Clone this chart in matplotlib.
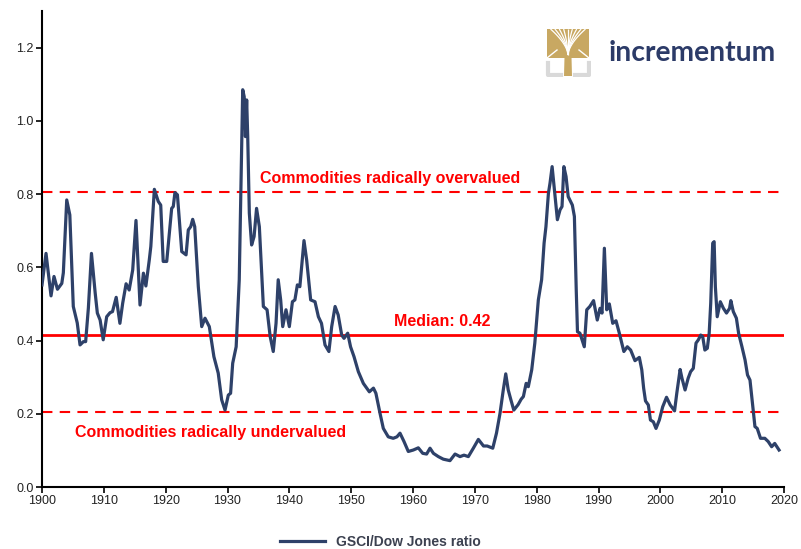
import matplotlib
matplotlib.use("Agg")
import matplotlib.pyplot as plt
from matplotlib.patches import Polygon, Rectangle
import numpy as np

# ---------------- data ----------------
years = [1900.0, 1900.65, 1901.46, 1901.94, 1902.5, 1903.2, 1903.45, 1904.0, 1904.5, 1905.06,
         1905.7, 1906.15, 1906.7, 1907.06, 1907.5, 1908.0, 1908.6, 1908.95, 1909.4, 1909.9,
         1910.46, 1911.0, 1911.4, 1912.0, 1912.6, 1913.05, 1913.6, 1914.1, 1914.67, 1915.2,
         1915.85, 1916.4, 1916.8, 1917.35, 1917.6, 1918.17, 1918.8, 1919.2, 1919.6, 1920.17,
         1920.97, 1921.23, 1921.5, 1921.9, 1922.6, 1923.3, 1923.66, 1924.05, 1924.37, 1924.7,
         1925.28, 1925.83, 1926.36, 1927.06, 1927.8, 1928.5, 1929.06, 1929.6, 1930.13, 1930.5,
         1930.84, 1931.4, 1931.9, 1932.2, 1932.46, 1932.7, 1932.9, 1933.1, 1933.27, 1933.53,
         1933.9, 1934.3, 1934.7, 1935.15, 1935.8, 1936.4, 1936.9, 1937.4, 1937.85, 1938.2,
         1938.6, 1938.93, 1939.46, 1940.0, 1940.5, 1940.9, 1941.3, 1941.7, 1942.37, 1942.8,
         1943.45, 1944.15, 1944.7, 1945.2, 1945.77, 1946.4, 1946.85, 1947.4, 1947.9, 1948.47,
         1948.84, 1949.44, 1949.9, 1950.46, 1951.16, 1951.97, 1952.94, 1953.6, 1954.0, 1954.67,
         1955.2, 1956.0, 1956.8, 1957.4, 1957.9, 1958.55, 1959.24, 1960.05, 1960.86, 1961.57,
         1962.2, 1962.75, 1963.3, 1964.1, 1964.9, 1965.98, 1966.8, 1967.6, 1968.25, 1968.95,
         1969.76, 1970.57, 1971.4, 1972.0, 1972.9, 1973.5, 1974.07, 1974.6, 1975.0, 1975.4,
         1975.8, 1976.3, 1977.0, 1977.5, 1977.85, 1978.3, 1978.65, 1979.2, 1979.7, 1980.27,
         1980.8, 1981.2, 1981.5, 1981.9, 1982.16, 1982.5, 1982.87, 1983.35, 1983.78, 1984.1,
         1984.4, 1984.75, 1985.1, 1985.77, 1986.1, 1986.4, 1986.6, 1987.0, 1987.7, 1988.1,
         1988.6, 1989.2, 1989.8, 1990.25, 1990.57, 1990.95, 1991.33, 1991.75, 1992.3, 1992.83,
         1993.37, 1994.1, 1994.66, 1995.2, 1995.9, 1996.6, 1997.0, 1997.3, 1997.6, 1998.06,
         1998.4, 1998.87, 1999.3, 1999.84, 2000.38, 2001.0, 2001.6, 2002.3, 2002.66, 2003.2,
         2003.5, 2004.0, 2004.5, 2004.9, 2005.33, 2005.77, 2006.15, 2006.53, 2006.85, 2007.2,
         2007.6, 2007.9, 2008.15, 2008.47, 2008.7, 2008.9, 2009.2, 2009.7, 2010.2, 2010.7,
         2011.2, 2011.4, 2011.8, 2012.3, 2012.66, 2013.2, 2013.7, 2014.1, 2014.5, 2014.95,
         2015.3, 2015.67, 2016.2, 2016.9, 2017.45, 2018.0, 2018.5, 2019.2]
ratio = [0.552, 0.638, 0.522, 0.575, 0.54, 0.556, 0.585, 0.784, 0.743, 0.493,
         0.448, 0.388, 0.397, 0.397, 0.489, 0.638, 0.53, 0.475, 0.456, 0.402,
         0.465, 0.476, 0.479, 0.518, 0.447, 0.502, 0.555, 0.538, 0.593, 0.728,
         0.497, 0.584, 0.549, 0.62, 0.657, 0.813, 0.78, 0.77, 0.616, 0.616,
         0.761, 0.766, 0.804, 0.798, 0.643, 0.634, 0.702, 0.711, 0.731, 0.711,
         0.547, 0.438, 0.461, 0.438, 0.356, 0.311, 0.238, 0.21, 0.251, 0.256,
         0.338, 0.383, 0.566, 0.839, 1.085, 1.066, 0.957, 1.057, 0.957, 0.748,
         0.661, 0.684, 0.761, 0.711, 0.493, 0.484, 0.411, 0.370, 0.447, 0.566,
         0.511, 0.438, 0.484, 0.438, 0.506, 0.511, 0.552, 0.547, 0.673, 0.62,
         0.511, 0.506, 0.465, 0.447, 0.388, 0.370, 0.438, 0.493, 0.47, 0.415,
         0.406, 0.42, 0.383, 0.356, 0.315, 0.283, 0.26, 0.27, 0.256, 0.201,
         0.160, 0.137, 0.133, 0.137, 0.147, 0.124, 0.097, 0.101, 0.107, 0.092,
         0.09, 0.106, 0.092, 0.083, 0.076, 0.072, 0.09, 0.083, 0.087, 0.083,
         0.106, 0.130, 0.112, 0.112, 0.106, 0.147, 0.201, 0.265, 0.309, 0.265,
         0.24, 0.21, 0.225, 0.24, 0.247, 0.283, 0.274, 0.320, 0.393, 0.511,
         0.566, 0.666, 0.711, 0.802, 0.830, 0.875, 0.811, 0.73, 0.757, 0.766,
         0.875, 0.848, 0.793, 0.770, 0.739, 0.538, 0.424, 0.42, 0.383, 0.484,
         0.493, 0.509, 0.456, 0.488, 0.475, 0.652, 0.484, 0.5, 0.447, 0.454,
         0.42, 0.370, 0.383, 0.374, 0.345, 0.354, 0.320, 0.27, 0.235, 0.224,
         0.183, 0.178, 0.160, 0.183, 0.219, 0.245, 0.224, 0.208, 0.256, 0.321,
         0.297, 0.265, 0.297, 0.315, 0.324, 0.393, 0.402, 0.415, 0.411, 0.374,
         0.379, 0.42, 0.502, 0.666, 0.670, 0.547, 0.465, 0.506, 0.488, 0.475,
         0.488, 0.509, 0.479, 0.461, 0.42, 0.383, 0.347, 0.306, 0.292, 0.219,
         0.165, 0.160, 0.133, 0.133, 0.124, 0.110, 0.119, 0.101]

median_value = 0.415
overvalued_level = 0.805
undervalued_level = 0.205
series_label = "GSCI/Dow Jones ratio"
median_label = "Median: 0.42"
over_label = "Commodities radically overvalued"
under_label = "Commodities radically undervalued"
x_ticks = list(range(1900, 2021, 10))
y_ticks = [0.0, 0.2, 0.4, 0.6, 0.8, 1.0, 1.2]

# ---------------- styling ----------------
NAVY = "#2E4169"
RED = "#FF0000"
narrow = ["Liberation Sans Narrow", "Liberation Sans", "DejaVu Sans"]
bold_font = ["Liberation Sans", "DejaVu Sans"]

fig = plt.figure(figsize=(8.01, 5.49), dpi=100)
ax = fig.add_axes([42 / 801, 62 / 549, 742 / 801, 476 / 549])

line, = ax.plot(years, ratio, color=NAVY, lw=2.3, label=series_label, zorder=3,
                solid_joinstyle="round")
ax.axhline(median_value, color=RED, lw=2.0, zorder=2)
ax.axhline(overvalued_level, color=RED, lw=1.5, ls=(0, (5, 3.5)), zorder=2)
ax.axhline(undervalued_level, color=RED, lw=1.5, ls=(0, (5, 3.5)), zorder=2)

ax.text(1956.3, 0.842, over_label, color=RED, fontsize=11.5, fontweight="bold",
        family=bold_font, ha="center", va="center")
ax.text(1964.7, 0.452, median_label, color=RED, fontsize=11.5, fontweight="bold",
        family=bold_font, ha="center", va="center")
ax.text(1927.3, 0.148, under_label, color=RED, fontsize=11.5, fontweight="bold",
        family=bold_font, ha="center", va="center")

ax.set_xlim(1900, 2020)
ax.set_ylim(0, 1.3)
ax.set_xticks(x_ticks)
ax.set_xticklabels([str(t) for t in x_ticks], family=narrow, fontsize=9)
ax.set_yticks(y_ticks)
ax.set_yticklabels([f"{t:.1f}" for t in y_ticks], family=narrow, fontsize=9)
for s in ["top", "right"]:
    ax.spines[s].set_visible(False)
for s in ["left", "bottom"]:
    ax.spines[s].set_color("black")
    ax.spines[s].set_linewidth(1.5)
ax.tick_params(axis="both", direction="out", length=4, width=1.2, colors="black",
               labelcolor="#222222")
ax.tick_params(axis="x", pad=1.5)
ax.tick_params(axis="y", pad=2)

leg = fig.legend(handles=[line], loc="lower center", bbox_to_anchor=(0.475, -0.022),
                 frameon=False, handlelength=3.2,
                 prop={"family": narrow, "weight": "bold", "size": 10})
for t in leg.get_texts():
    t.set_color("#3C4150")

# ---------------- logo ----------------
lax = fig.add_axes([545 / 801, 1 - 77 / 549, 46 / 801, 50 / 549])
lax.set_xlim(0, 46)
lax.set_ylim(0, 50)
lax.axis("off")
GOLD = "#C8A862"
GRAY = "#D9D9D9"
# crown block
lax.add_patch(Rectangle((2, 19), 42, 29, color=GOLD, lw=0))
# trunk
lax.add_patch(Polygon([[19, 1], [27, 1], [26.5, 20], [19.5, 20]], closed=True, color=GOLD, lw=0))
# white gaps between branches
for xe in np.linspace(5.5, 40.5, 9):
    t = np.linspace(0, 1, 25)
    xs = 23 + (xe - 23) * t
    ys = 22 + 26 * t ** 0.6
    lax.plot(xs, ys, color="white", lw=0.9, solid_capstyle="butt")
# side notches of the crown
lax.plot([2, 12], [19, 27], color="white", lw=1.0)
lax.plot([44, 34], [19, 27], color="white", lw=1.0)
# gray brackets
lax.plot([2.5, 2.5, 16], [14, 2, 2], color=GRAY, lw=3)
lax.plot([43.5, 43.5, 30], [14, 2, 2], color=GRAY, lw=3)

fig.text(609 / 801, 1 - 53 / 549, "incrementum", color="#2C3B68", fontsize=20.3,
         family=["Lato", "DejaVu Sans"], fontweight="bold", va="center", ha="left")

fig.savefig("out.png", dpi=100)
